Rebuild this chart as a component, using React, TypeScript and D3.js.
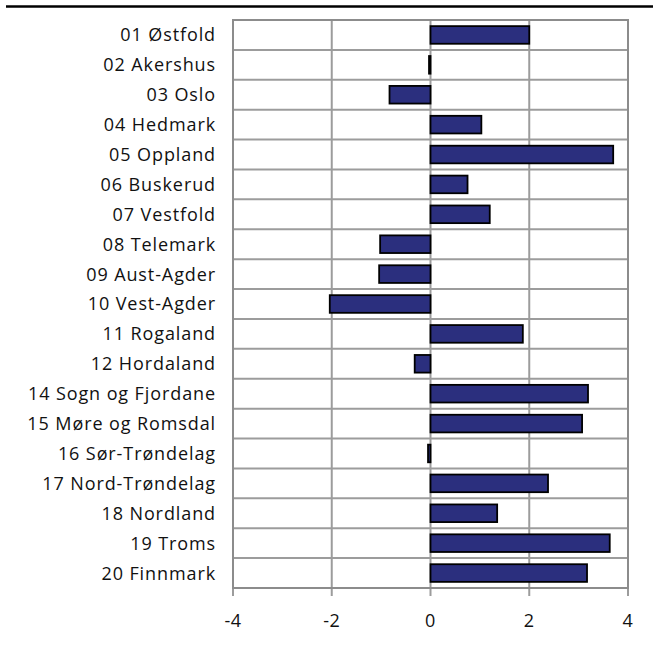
import * as d3 from "d3"

const regions = [
  "01 Østfold",
  "02 Akershus",
  "03 Oslo",
  "04 Hedmark",
  "05 Oppland",
  "06 Buskerud",
  "07 Vestfold",
  "08 Telemark",
  "09 Aust-Agder",
  "10 Vest-Agder",
  "11 Rogaland",
  "12 Hordaland",
  "14 Sogn og Fjordane",
  "15 Møre og Romsdal",
  "16 Sør-Trøndelag",
  "17 Nord-Trøndelag",
  "18 Nordland",
  "19 Troms",
  "20 Finnmark",
]

const values = [2.0, -0.03, -0.83, 1.03, 3.7, 0.75, 1.2, -1.02, -1.04, -2.04, 1.87, -0.32, 3.19, 3.07, -0.05, 2.38, 1.35, 3.63, 3.17]

const xTicks = [-4, -2, 0, 2, 4]

const W = 653
const H = 646
const plot = { left: 233, right: 628, top: 20, bottom: 588 }
const font = "'Open Sans', 'Noto Sans', sans-serif"

export default function App() {
  const x = d3.scaleLinear().domain([-4, 4]).range([plot.left, plot.right])
  const y = d3
    .scaleBand<string>()
    .domain(regions)
    .range([plot.top, plot.bottom])
    .paddingInner(0.41)
    .paddingOuter(0.205)
  const step = y.step()
  const rowLines = d3.range(regions.length + 1).map((i) => plot.top + i * step)

  return (
    <svg width={W} height={H} style={{ position: "absolute", left: 0, top: 0, background: "#fff" }}>
      <line x1={6} x2={W} y1={6.5} y2={6.5} stroke="#000" strokeWidth={2.3} />

      {rowLines.map((yy, i) => (
        <line key={"h" + i} x1={plot.left} x2={plot.right} y1={yy} y2={yy} stroke="#9c9c9c" strokeWidth={2} />
      ))}
      {xTicks.map((t) => (
        <line key={"v" + t} x1={x(t)} x2={x(t)} y1={plot.top} y2={plot.bottom + 8} stroke="#9c9c9c" strokeWidth={2} />
      ))}
      <rect
        x={plot.left}
        y={plot.top}
        width={plot.right - plot.left}
        height={plot.bottom - plot.top}
        fill="none"
        stroke="#8c8c8c"
        strokeWidth={2}
      />

      {regions.map((r, i) => {
        const v = values[i]
        const x0 = x(Math.min(0, v))
        const w = Math.abs(x(v) - x(0))
        return (
          <rect
            key={r}
            x={x0}
            y={y(r)}
            width={w}
            height={y.bandwidth()}
            fill="#2b2f7e"
            stroke="#000"
            strokeWidth={1.8}
          />
        )
      })}

      {regions.map((r) => (
        <text
          key={"l" + r}
          x={216}
          y={(y(r) ?? 0) + y.bandwidth() / 2}
          dy="0.36em"
          textAnchor="end"
          fontFamily={font}
          fontSize={18}
          letterSpacing={0.9}
          fill="#111"
        >
          {r}
        </text>
      ))}

      {xTicks.map((t) => (
        <text
          key={"t" + t}
          x={x(t)}
          y={627}
          textAnchor="middle"
          fontFamily={font}
          fontSize={18}
          letterSpacing={0.5}
          fill="#111"
        >
          {t}
        </text>
      ))}
    </svg>
  )
}
